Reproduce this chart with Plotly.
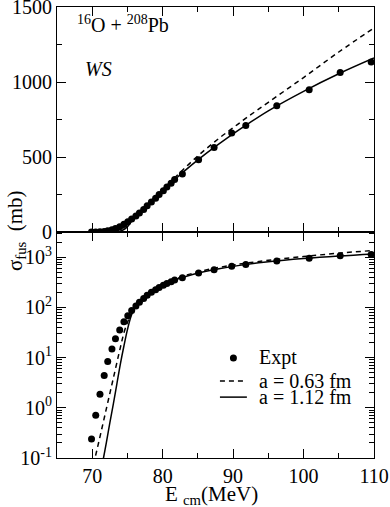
import plotly.graph_objects as go
from plotly.subplots import make_subplots

# experimental fusion cross section (MeV, mb)
e_exp = [69.9, 70.5, 71.1, 71.7, 72.2, 72.8, 73.3, 73.9, 74.5, 75.05, 75.6, 76.2,
         76.7, 77.3, 77.8, 78.4, 79.0, 79.5, 80.1, 80.6, 81.2, 81.7,
         82.8, 85.1, 87.3, 89.8, 91.8, 96.2, 100.8, 105.2, 109.6]
sig_exp = [0.24, 0.71, 1.87, 4.4, 8.4, 14.8, 23.6, 35.6, 52, 68, 87, 107,
           127, 150, 175, 200, 225, 250, 275, 300, 325, 350,
           387, 482, 564, 660, 711, 842, 949, 1064, 1133]

# WS calculation, a = 0.63 fm
e_a063 = [68, 69, 70, 70.4, 71, 72, 73, 74, 74.5, 75, 75.5, 76, 76.5, 77, 78, 79, 80,
          82, 84, 86, 88, 90, 92, 95, 100, 105, 110]
sig_a063 = [0.003, 0.02, 0.056, 0.1, 0.23, 0.95, 3.9, 16, 31, 50, 73, 97, 121, 145, 190, 236, 283,
            375, 465, 548, 625, 695, 765, 865, 1030, 1200, 1360]

# WS calculation, a = 1.12 fm
e_a112 = [68, 69, 70, 71, 71.6, 72, 72.5, 73, 73.5, 74, 74.5, 75, 75.5, 76, 76.5, 77, 78, 79, 80,
          82, 84, 86, 88, 90, 92, 95, 100, 105, 110]
sig_a112 = [0.0001, 0.0007, 0.004, 0.035, 0.1, 0.2, 0.5, 1.2, 3.0, 7.5, 17, 36, 66, 97, 121, 143, 186, 231, 276,
            362, 443, 518, 588, 655, 718, 808, 938, 1055, 1160]

legend_labels = ["Expt", "a = 0.63 fm", "a = 1.12 fm"]

serif = "Liberation Serif"
black = "black"

fig = make_subplots(rows=2, cols=1)

for row in (1, 2):
    fig.add_trace(go.Scatter(x=e_exp, y=sig_exp, mode="markers", name=legend_labels[0],
                             marker=dict(color=black, size=7)), row=row, col=1)
    fig.add_trace(go.Scatter(x=e_a063, y=sig_a063, mode="lines", name=legend_labels[1],
                             line=dict(color=black, width=1.5, dash="5px,4px", shape="spline")),
                  row=row, col=1)
    fig.add_trace(go.Scatter(x=e_a112, y=sig_a112, mode="lines", name=legend_labels[2],
                             line=dict(color=black, width=1.5, shape="spline")),
                  row=row, col=1)

axis_common = dict(showline=True, linecolor=black, linewidth=1, mirror="ticks",
                   ticks="inside", ticklen=9, tickcolor=black, showgrid=False,
                   zeroline=False, automargin=False, ticklabeloverflow="allow",
                   tickfont=dict(family=serif, size=20, color=black))

fig.update_xaxes(range=[65, 110], tickvals=[70, 80, 90, 100, 110],
                 minor=dict(tickvals=[75, 85, 95, 105], ticks="inside", ticklen=5,
                            tickcolor=black),
                 **axis_common)
fig.update_xaxes(showticklabels=False, row=1, col=1)

fig.update_yaxes(range=[0, 1500], tickvals=[0, 500, 1000, 1500],
                 minor=dict(tickvals=[250, 750, 1250], ticks="inside", ticklen=5,
                            tickcolor=black),
                 row=1, col=1, **axis_common)

minor_log = [m * 10 ** k for k in range(-1, 4) for m in range(2, 10)]
fig.update_yaxes(type="log", range=[-1, 3.5],
                 tickvals=[0.1, 1, 10, 100, 1000],
                 ticktext=["10<sup>-1</sup>", "10<sup>0</sup>", "10<sup>1</sup>",
                           "10<sup>2</sup>", "10<sup>3</sup>"],
                 minor=dict(tickvals=minor_log, ticks="inside", ticklen=5, tickcolor=black),
                 row=2, col=1, **axis_common)

# hand-drawn legend block in the lower panel (paper coordinates)
leg_x0, leg_x1, leg_text = 0.514, 0.599, 0.631
leg_rows = [0.222, 0.171, 0.135]
shapes = [
    dict(type="circle", xref="paper", yref="paper", xsizemode="pixel", ysizemode="pixel",
         xanchor=(leg_x0 + leg_x1) / 2, yanchor=leg_rows[0], x0=-3.5, x1=3.5, y0=-3.5, y1=3.5,
         fillcolor=black, line=dict(color=black, width=0)),
    dict(type="line", xref="paper", yref="paper", x0=leg_x0, x1=leg_x1,
         y0=leg_rows[1], y1=leg_rows[1], line=dict(color=black, width=1.5, dash="5px,4px")),
    dict(type="line", xref="paper", yref="paper", x0=leg_x0, x1=leg_x1,
         y0=leg_rows[2], y1=leg_rows[2], line=dict(color=black, width=1.5)),
]
annotations = [
    dict(text=lab, x=leg_text, y=yy, xref="paper", yref="paper", xanchor="left",
         yanchor="middle", showarrow=False, font=dict(family=serif, size=20, color=black))
    for lab, yy in zip(legend_labels, leg_rows)
]
annotations += [
    dict(text="<sup>16</sup>O + <sup>208</sup>Pb", x=67.5, y=1390, xref="x", yref="y",
         xanchor="left", yanchor="middle", showarrow=False,
         font=dict(family=serif, size=20, color=black)),
    dict(text="<i>WS</i>", x=68.7, y=1090, xref="x", yref="y",
         xanchor="left", yanchor="middle", showarrow=False,
         font=dict(family=serif, size=20, color=black)),
    dict(text="σ<sub>fus</sub>  (mb)", x=-0.13, y=0.505, xref="paper", yref="paper",
         textangle=-90, xanchor="center", yanchor="middle", showarrow=False,
         font=dict(family=serif, size=21, color=black)),
    dict(text="E <sub>cm</sub>(MeV)", x=0.486, y=-0.083, xref="paper", yref="paper",
         xanchor="center", yanchor="middle", showarrow=False,
         font=dict(family=serif, size=21, color=black)),
]

fig.update_layout(
    width=390, height=507,
    margin=dict(l=57, r=16, t=7, b=49),
    plot_bgcolor="white", paper_bgcolor="white",
    font=dict(family=serif, size=20, color=black),
    showlegend=False,
    yaxis=dict(domain=[0.501, 1]),
    yaxis2=dict(domain=[0, 0.501]),
    shapes=shapes,
    annotations=annotations,
)

fig.write_html("out.html", config={"displayModeBar": False},
               post_script="document.body.style.margin='0';")
